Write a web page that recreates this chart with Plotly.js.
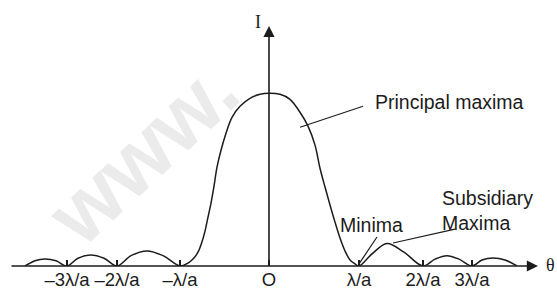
<!DOCTYPE html>
<html>
<head>
<meta charset="utf-8">
<script src="https://cdn.plot.ly/plotly-3.0.1.min.js"></script>
<style>html,body{margin:0;padding:0;background:#fff;}#chart{width:557px;height:298px;}</style>
</head>
<body>
<div id="chart"></div>
<script>
// Sketch coordinates: theta (horizontal offset from O), intensity (central peak = 100)
const theta = [-244, -234, -224, -213, -202, -191, -178, -165, -152, -138, -122, -106,
  -89, -81, -76, -71, -67, -64, -61, -58, -55, -52, -48, -43, -37, -29, -19, -9, 0,
  11, 21, 31, 39, 46, 51, 56, 61, 66, 71, 76, 81, 86, 90,
  103, 118, 135, 154, 166, 178, 190, 203, 213, 224, 236, 248];
const intensity = [0, 3, 4, 3, 0, 4.5, 6.4, 4.5, 0, 6, 8.7, 6,
  0, 1.7, 4, 8, 14, 20.2, 28.3, 36.4, 46.2, 57.2, 67, 76.9, 86.1, 92.5, 97.1, 99.4, 100,
  99.4, 96.5, 89, 81, 70, 56.6, 45.7, 35.3, 25.4, 16.2, 8.7, 3.5, 1.2, 0,
  7, 13, 8, 0, 4, 6, 4, 0, 3.5, 4.7, 3.5, 0];
const minimaPos = [-202, -152, -89, 0, 90, 154, 203];
const minimaText = ['–3λ/a', '–2λ/a', '–λ/a', 'O', 'λ/a', '2λ/a', '3λ/a'];
const labels = ['Principal maxima', 'Minima', 'Subsidiary<br>Maxima'];

const ink = '#1c1c1c';
const sans = 'Liberation Sans, Arial, sans-serif';
const serif = 'Liberation Serif, Times New Roman, serif';

const trace = {
  x: theta, y: intensity, type: 'scatter', mode: 'lines',
  line: {color: ink, width: 1.5, shape: 'spline', smoothing: 1},
  hoverinfo: 'skip', showlegend: false
};

const layout = {
  width: 557, height: 298,
  margin: {l: 0, r: 0, t: 0, b: 32, pad: 0},
  paper_bgcolor: '#ffffff', plot_bgcolor: 'rgba(0,0,0,0)',
  showlegend: false,
  xaxis: {
    range: [-269, 288], showgrid: false, zeroline: false, showline: false,
    ticks: 'inside', ticklen: 6, tickwidth: 1.2, tickcolor: ink,
    tickmode: 'array', tickvals: minimaPos, ticktext: minimaText,
    tickfont: {family: sans, size: 18.5, color: ink}, fixedrange: true
  },
  yaxis: {range: [0, 154], visible: false, fixedrange: true},
  shapes: [
    {type: 'line', xref: 'x', yref: 'y', x0: -174, y0: 6.9, x1: -24, y1: 87.9, layer: 'below',
     line: {color: 'rgba(0,0,0,0)', width: 0},
     label: {text: '<b>www.</b>', textposition: 'middle', textangle: -43,
             font: {family: sans, size: 86, color: '#ebebeb'}}},
    {type: 'line', xref: 'x', yref: 'y', x0: 31, y0: 80.3, x1: 94, y1: 92.5, line: {color: ink, width: 1.2}},
    {type: 'line', xref: 'x', yref: 'y', x0: 90, y0: 1.2, x1: 108, y1: 16.8, line: {color: ink, width: 1.2}},
    {type: 'line', xref: 'x', yref: 'y', x0: 124, y0: 13.3, x1: 186, y1: 21.4, line: {color: ink, width: 1.2}}
  ],
  annotations: [
    {xref: 'x', yref: 'y', x: 269, y: 0, ax: -259, ay: 0, axref: 'x', ayref: 'y', text: '',
     showarrow: true, arrowhead: 2, arrowsize: 1.4, arrowwidth: 1.6, arrowcolor: ink, standoff: 0},
    {xref: 'x', yref: 'y', x: 0, y: 139, ax: 0, ay: 0, axref: 'x', ayref: 'y', text: '',
     showarrow: true, arrowhead: 2, arrowsize: 1.4, arrowwidth: 1.6, arrowcolor: ink, standoff: 0},
    {xref: 'x', yref: 'y', x: -11, y: 141, text: 'I', showarrow: false,
     font: {family: serif, size: 18, color: ink}},
    {xref: 'x', yref: 'y', x: 275, y: 0.5, xanchor: 'left', text: 'θ', showarrow: false,
     font: {family: serif, size: 18, color: ink}},
    {xref: 'x', yref: 'y', x: 104, y: 94.8, xanchor: 'left', text: labels[0], showarrow: false,
     font: {family: sans, size: 19.5, color: ink}},
    {xref: 'x', yref: 'y', x: 102.5, y: 23.7, xanchor: 'center', text: labels[1], showarrow: false,
     font: {family: sans, size: 19.5, color: ink}},
    {xref: 'x', yref: 'y', x: 171, y: 32.4, xanchor: 'left', align: 'left', text: labels[2], showarrow: false,
     font: {family: sans, size: 19.5, color: ink}}
  ]
};

Plotly.newPlot('chart', [trace], layout, {displayModeBar: false, staticPlot: true});
</script>
</body>
</html>
